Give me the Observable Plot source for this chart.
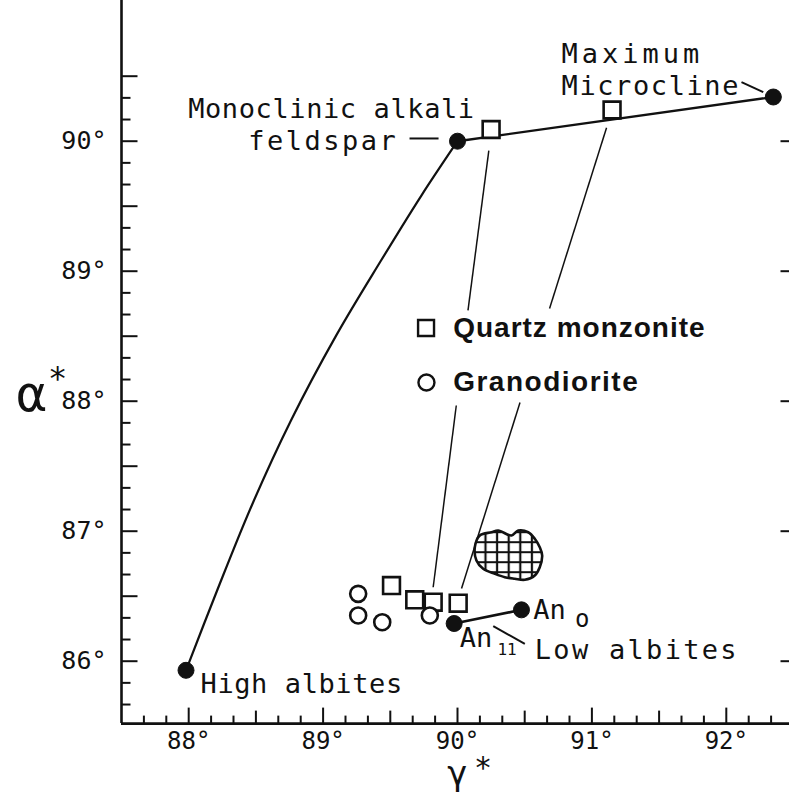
<!DOCTYPE html>
<html>
<head>
<meta charset="utf-8">
<script src="https://cdn.jsdelivr.net/npm/d3@7"></script>
<script src="https://cdn.jsdelivr.net/npm/@observablehq/plot@0.6"></script>
<style>
  body { margin: 0; background: #fff; }
  #chart { width: 789px; height: 792px; }
</style>
</head>
<body>
<div id="chart"></div>
<script>
// ---------- data (γ*, α* in degrees) ----------
const gammaTickLabels = [88, 89, 90, 91, 92];
const alphaTickLabels = [86, 87, 88, 89, 90];

// end members (filled dots)
const endMembers = [
  {name: "High albites", g: 87.98, a: 85.93},
  {name: "Monoclinic alkali feldspar", g: 90.00, a: 90.00},
  {name: "Maximum Microcline", g: 92.35, a: 90.34},
  {name: "An11", g: 89.975, a: 86.29},
  {name: "An0", g: 90.476, a: 86.395}
];

// curve from high albite to monoclinic feldspar
const albiteCurve = [
  {g: 87.98, a: 85.93}, {g: 88.21, a: 86.54}, {g: 88.47, a: 87.20},
  {g: 88.76, a: 87.85}, {g: 89.10, a: 88.51}, {g: 89.43, a: 89.08},
  {g: 89.73, a: 89.58}, {g: 90.00, a: 90.00}
];
const microclineLine = [{g: 90.00, a: 90.00}, {g: 92.35, a: 90.34}];
const lowAlbiteLine = [{g: 89.975, a: 86.29}, {g: 90.476, a: 86.395}];

// Quartz monzonite (squares)
const quartzMonzonite = [
  {g: 90.25, a: 90.09}, {g: 91.15, a: 90.24},
  {g: 89.509, a: 86.582}, {g: 89.682, a: 86.472},
  {g: 89.819, a: 86.454}, {g: 90.005, a: 86.446}
];
// Granodiorite (circles)
const granodiorite = [
  {g: 89.261, a: 86.518}, {g: 89.261, a: 86.352},
  {g: 89.44, a: 86.30}, {g: 89.794, a: 86.352}
];

// hatched field outline
const hatchedField = [
  {g: 90.129, a: 86.877}, {g: 90.166, a: 86.967}, {g: 90.253, a: 86.992},
  {g: 90.303, a: 87.005}, {g: 90.402, a: 86.967}, {g: 90.452, a: 87.005},
  {g: 90.526, a: 86.992}, {g: 90.575, a: 86.942}, {g: 90.612, a: 86.877},
  {g: 90.630, a: 86.813}, {g: 90.612, a: 86.723}, {g: 90.575, a: 86.659},
  {g: 90.501, a: 86.626}, {g: 90.426, a: 86.634}, {g: 90.352, a: 86.646},
  {g: 90.278, a: 86.672}, {g: 90.191, a: 86.711}, {g: 90.141, a: 86.775}
];

// tie lines (broken by the legend) and leader lines
const tieLines = [
  {g1: 90.233, a1: 89.928, g2: 90.078, a2: 88.698},
  {g1: 89.991, a1: 87.967, g2: 89.819, a2: 86.569},
  {g1: 91.109, a1: 90.103, g2: 90.685, a2: 88.713},
  {g1: 90.465, a1: 87.990, g2: 90.030, a2: 86.559}
];
const leaders = [
  {g1: 89.643, a1: 90.021, g2: 89.859, a2: 90.021},
  {g1: 92.113, a1: 90.454, g2: 92.275, a2: 90.377},
  {g1: 90.266, a1: 86.269, g2: 90.501, a2: 86.134}
];

// labels
const labels = [
  {text: "Monoclinic alkali", g: 87.996, a: 90.175},
  {text: "feldspar", g: 88.443, a: 89.929},
  {text: "Maximum", g: 90.774, a: 90.60},
  {text: "Microcline", g: 90.774, a: 90.354},
  {text: "High albites", g: 88.088, a: 85.752},
  {text: "Low albites", g: 90.575, a: 86.018},
  {text: "An", g: 90.563, a: 86.326},
  {text: "An", g: 90.017, a: 86.108}
];
const subLabels = [
  {text: "o", g: 90.875, a: 86.262},
  {text: "11", g: 90.297, a: 86.044}
];
const legendSquare = [{g: 89.766, a: 88.563}];
const legendCircle = [{g: 89.769, a: 88.144}];
const legendText = [
  {text: "Quartz monzonite", g: 89.968, a: 88.492},
  {text: "Granodiorite", g: 89.968, a: 88.075}
];

// ---------- scales / frame ----------
const G0 = 87.5, G1 = 92.5, A0 = 85.52;
const sixth = (lo, hi) => d3.range(Math.ceil(lo * 6), Math.floor(hi * 6) + 1).map(k => k / 6);
const isInt = v => Math.abs(v - Math.round(v)) < 1e-6;
const isHalf = v => !isInt(v) && Math.abs(2 * v - Math.round(2 * v)) < 1e-6;
const xt = sixth(87.51, 92.49), yt = sixth(85.6, 90.55);
const tickShape = {draw(ctx, l) { ctx.moveTo(0, 0); ctx.lineTo(0, -l); }};
const tk = (data, opts) => Plot.vector(data, {anchor: "start", shape: tickShape, stroke: "#111", strokeWidth: 2, strokeLinecap: "butt", ...opts});

const mono = "DejaVu Sans Mono";

const svg = Plot.plot({
  width: 789,
  height: 792,
  margin: 0,
  x: {domain: [G0, G1], range: [121, 793], axis: null},
  y: {domain: [85.5, 91], range: [725.7, 10.7], axis: null},
  style: {background: "#fff", color: "#111", fontFamily: mono},
  marks: [
    // frame
    Plot.ruleX([G0], {y1: A0, y2: 91.12, stroke: "#111", strokeWidth: 2.6}),
    Plot.ruleY([A0], {x1: G0, x2: G1, stroke: "#111", strokeWidth: 2.6}),
    // bottom ticks
    tk(xt.filter(v => !isInt(v) && !isHalf(v)), {x: d => d, y: () => A0, length: 8, rotate: 0}),
    tk(xt.filter(isHalf), {x: d => d, y: () => A0, length: 13, rotate: 0}),
    tk(xt.filter(isInt), {x: d => d, y: () => A0, length: 16, rotate: 0}),
    // left ticks
    tk(yt.filter(v => !isInt(v) && !isHalf(v)), {x: () => G0, y: d => d, length: 9, rotate: 90}),
    tk(yt.filter(v => isInt(v) || isHalf(v)), {x: () => G0, y: d => d, length: 16, rotate: 90}),
    // right ticks
    tk(alphaTickLabels, {x: () => G1, y: d => d, length: 13, rotate: -90}),
    // tick labels
    Plot.text(gammaTickLabels, {x: d => d, y: () => A0, text: d => `${d}°`, dy: 18, fontSize: 24, fill: "#111"}),
    Plot.text(alphaTickLabels, {x: () => G0, y: d => d, text: d => `${d}°`, dx: -15, textAnchor: "end", fontSize: 25, fill: "#111"}),
    // axis titles
    Plot.text(["γ"], {x: () => 90.0, y: () => A0, text: d => d, dy: 51, fontSize: 34, fill: "#111"}),
    Plot.text(["*"], {x: () => 90.19, y: () => A0, text: d => d, dy: 45, fontSize: 30, fill: "#111"}),
    Plot.text(["α"], {x: () => G0, y: () => 88.0, text: d => d, dx: -90, dy: -6, fontSize: 50, fill: "#111"}),
    Plot.text(["*"], {x: () => G0, y: () => 88.0, text: d => d, dx: -64, dy: -22, fontSize: 32, fill: "#111"}),
    // lines
    Plot.line(albiteCurve, {x: "g", y: "a", curve: "catmull-rom", stroke: "#111", strokeWidth: 2.2}),
    Plot.line(microclineLine, {x: "g", y: "a", stroke: "#111", strokeWidth: 2.4}),
    Plot.line(lowAlbiteLine, {x: "g", y: "a", stroke: "#111", strokeWidth: 2.6}),
    Plot.link(tieLines, {x1: "g1", y1: "a1", x2: "g2", y2: "a2", stroke: "#111", strokeWidth: 1.5}),
    Plot.link(leaders, {x1: "g1", y1: "a1", x2: "g2", y2: "a2", stroke: "#111", strokeWidth: 2}),
    // hatched field
    Plot.line(hatchedField, {x: "g", y: "a", curve: "catmull-rom-closed", fill: "url(#hatchgrid)", stroke: "#111", strokeWidth: 2.6}),
    // samples
    Plot.dot(quartzMonzonite, {x: "g", y: "a", symbol: "square", r: 9.5, fill: "#fff", stroke: "#111", strokeWidth: 2.6}),
    Plot.dot(granodiorite, {x: "g", y: "a", symbol: "circle", r: 8, fill: "#fff", stroke: "#111", strokeWidth: 2.6}),
    Plot.dot(endMembers, {x: "g", y: "a", r: 8, fill: "#111", stroke: "#111", strokeWidth: 1}),
    // labels
    Plot.text(labels, {x: "g", y: "a", text: "text", textAnchor: "start", lineAnchor: "bottom", fontSize: 27, fill: "#111"}),
    Plot.text(subLabels.slice(0, 1), {x: "g", y: "a", text: "text", textAnchor: "start", lineAnchor: "bottom", fontSize: 24, fill: "#111"}),
    Plot.text(subLabels.slice(1), {x: "g", y: "a", text: "text", textAnchor: "start", lineAnchor: "bottom", fontSize: 16, fill: "#111"}),
    // legend
    Plot.dot(legendSquare, {x: "g", y: "a", symbol: "square", r: 9, fill: "#fff", stroke: "#111", strokeWidth: 2.4}),
    Plot.dot(legendCircle, {x: "g", y: "a", symbol: "circle", r: 8, fill: "#fff", stroke: "#111", strokeWidth: 2.4}),
    Plot.text(legendText, {x: "g", y: "a", text: "text", textAnchor: "start", lineAnchor: "bottom", fontSize: 28, fontWeight: "bold", fontFamily: "Liberation Sans", fill: "#111"})
  ]
});

d3.select(svg).insert("defs", ":first-child").html(
  `<pattern id="hatchgrid" patternUnits="userSpaceOnUse" x="479.2" y="536.7" width="11.6" height="10">
     <rect width="11.6" height="10" fill="#fff"/>
     <path d="M5.8,0V10M0,5H11.6" stroke="#111" stroke-width="2.2"/>
   </pattern>`
);
// hand-lettering spacing tweaks
const spacing = {"Monoclinic alkali": 0.6, "High albites": 0.6, "Maximum": 4, "Microcline": 1.6, "Low albites": 2.3, "feldspar": 2.5, "Quartz monzonite": 1, "Granodiorite": 1.5};
d3.select(svg).selectAll("text").each(function () {
  const s = spacing[this.textContent];
  if (s) this.setAttribute("letter-spacing", s);
});

document.getElementById("chart").append(svg);
</script>
</body>
</html>
